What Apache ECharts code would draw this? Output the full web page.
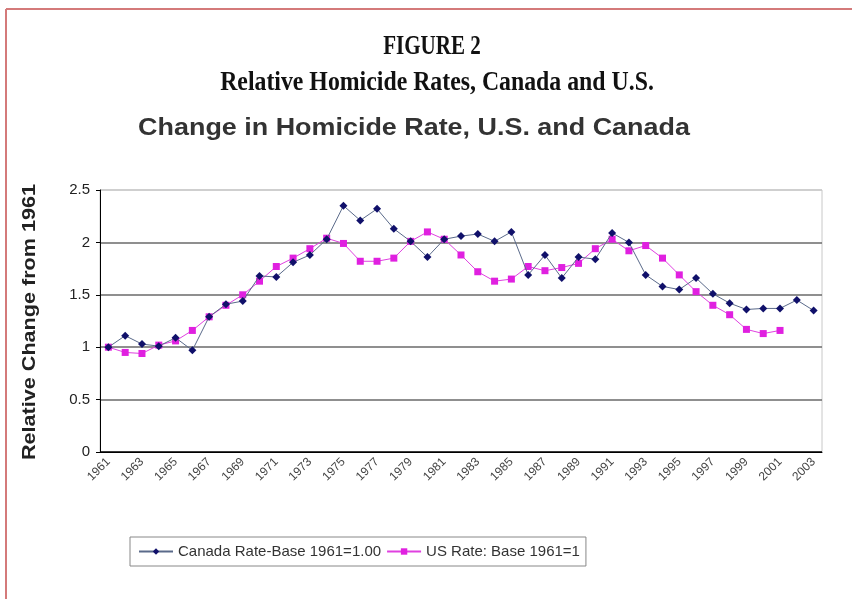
<!DOCTYPE html>
<html><head><meta charset="utf-8">
<script src="https://cdn.jsdelivr.net/npm/echarts@6/dist/echarts.min.js"></script>
<style>html,body{margin:0;padding:0;background:#fff}#c{width:852px;height:599px}</style>
</head><body><div id="c"></div>
<script>
const years = [];
for (let y = 1961; y <= 2003; y++) years.push(String(y));
const canada = [1.00,1.11,1.03,1.01,1.09,0.97,1.29,1.41,1.44,1.68,1.67,1.81,1.88,2.03,2.35,2.21,2.32,2.13,2.01,1.86,2.03,2.06,2.08,2.01,2.10,1.69,1.88,1.66,1.86,1.84,2.09,2.00,1.69,1.58,1.55,1.66,1.51,1.42,1.36,1.37,1.37,1.45,1.35];
const us = [1.00,0.95,0.94,1.02,1.06,1.16,1.29,1.40,1.50,1.63,1.77,1.85,1.94,2.04,1.99,1.82,1.82,1.85,2.01,2.10,2.03,1.88,1.72,1.63,1.65,1.77,1.73,1.76,1.80,1.94,2.03,1.92,1.97,1.85,1.69,1.53,1.40,1.31,1.17,1.13,1.16];
const seriesNames = ['Canada Rate-Base 1961=1.00','US Rate: Base 1961=1'];
const figureLabel = 'FIGURE 2';
const figureTitle = 'Relative Homicide Rates, Canada and U.S.';
const chartTitle = 'Change in Homicide Rate, U.S. and Canada';
const yName = 'Relative Change from 1961';

const chart = echarts.init(document.getElementById('c'));
chart.setOption({
  backgroundColor: '#fff',
  animation: false,
  graphic: [
    {type: 'line', shape: {x1: 6, y1: 9, x2: 852, y2: 9}, style: {stroke: '#d47a7a', lineWidth: 2}},
    {type: 'line', shape: {x1: 6, y1: 9, x2: 6, y2: 599}, style: {stroke: '#d47a7a', lineWidth: 2}},
    {type: 'text', x: 432, y: 47, scaleX: 0.78,
     style: {text: figureLabel, fontFamily: 'Liberation Serif', fontWeight: 'bold', fontSize: 27, fill: '#111', align: 'center', verticalAlign: 'middle'}},
    {type: 'text', x: 437, y: 83, scaleX: 0.85,
     style: {text: figureTitle, fontFamily: 'Liberation Serif', fontWeight: 'bold', fontSize: 28, fill: '#111', align: 'center', verticalAlign: 'middle'}},
    {type: 'text', x: 414, y: 129, scaleX: 1.17,
     style: {text: chartTitle, fontFamily: 'Liberation Sans', fontWeight: 'bold', fontSize: 23, fill: '#333', align: 'center', verticalAlign: 'middle'}},
    {type: 'text', x: 30, y: 322, rotation: Math.PI / 2, scaleX: 1.2,
     style: {text: yName, fontFamily: 'Liberation Sans', fontWeight: 'bold', fontSize: 18, fill: '#222', align: 'center', verticalAlign: 'middle'}}
  ],
  legend: {
    data: seriesNames,
    left: 130, top: 537,
    orient: 'horizontal',
    borderColor: '#888', borderWidth: 1, padding: [7, 6, 7, 8],
    itemWidth: 34, itemHeight: 8, itemGap: 5,
    textStyle: {fontFamily: 'Liberation Sans', fontSize: 15, color: '#333'}
  },
  grid: {left: 100, right: 30, top: 190, bottom: 147, show: true, borderColor: '#c8c8c8', borderWidth: 1, containLabel: false},
  xAxis: {
    type: 'category', data: years, boundaryGap: true,
    axisLine: {lineStyle: {color: '#000', width: 1}},
    axisTick: {interval: 0, length: 4, lineStyle: {color: '#000'}},
    axisLabel: {interval: 1, rotate: 45, fontFamily: 'Liberation Sans', fontSize: 12, color: '#444', margin: 8}
  },
  yAxis: {
    type: 'value', min: 0, max: 2.5, interval: 0.5,
    axisLine: {show: true, lineStyle: {color: '#000'}},
    axisTick: {show: true, length: 4, lineStyle: {color: '#000'}},
    axisLabel: {fontFamily: 'Liberation Sans', fontSize: 15, color: '#222', margin: 10},
    splitLine: {show: true, lineStyle: {color: ['#000', '#6a6a6a', '#6a6a6a', '#6a6a6a', '#6a6a6a', '#c8c8c8'], width: 1.5}}
  },
  series: [
    {name: seriesNames[0], type: 'line', data: canada, symbol: 'diamond', symbolSize: 8,
     itemStyle: {color: '#10106a'}, lineStyle: {color: '#5a6a8a', width: 1}, z: 3},
    {name: seriesNames[1], type: 'line', data: us, symbol: 'rect', symbolSize: 7,
     itemStyle: {color: '#e020e0'}, lineStyle: {color: '#e040e0', width: 1}, z: 2}
  ]
});
</script></body></html>
